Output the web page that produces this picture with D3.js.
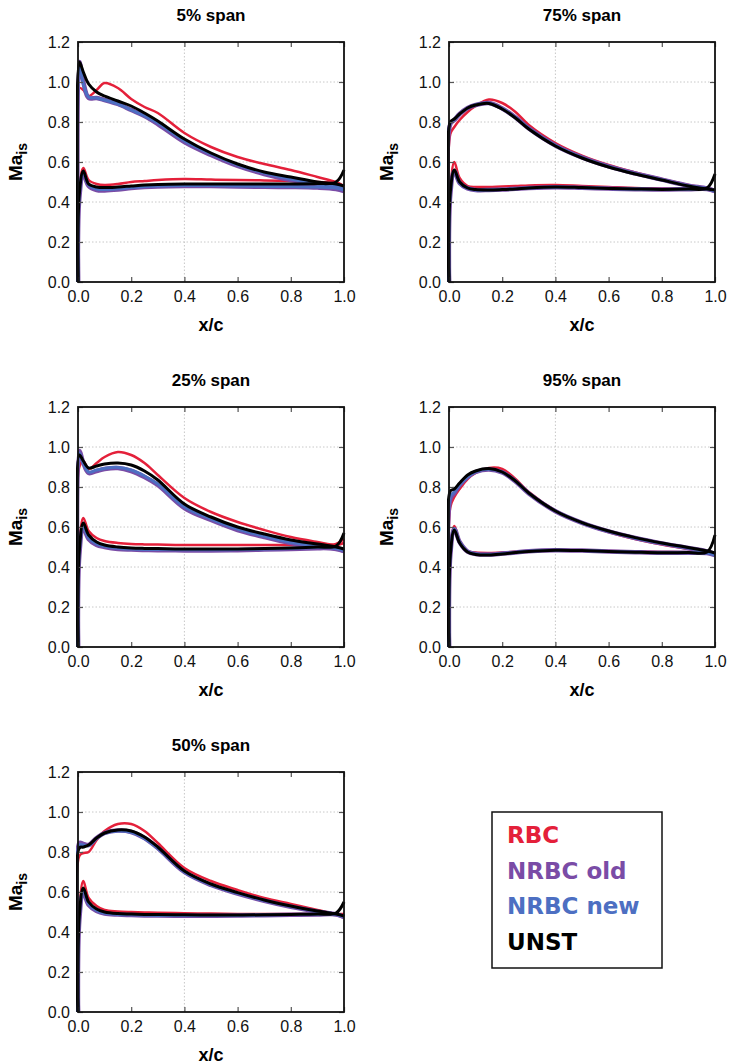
<!DOCTYPE html>
<html>
<head>
<meta charset="utf-8">
<script src="https://cdn.jsdelivr.net/npm/d3@7"></script>
<style>
  body { margin: 0; background: #fff; }
  svg { display: block; }
  text { font-family: "Liberation Sans", Arial, sans-serif; }
</style>
</head>
<body>
<svg id="chart" width="734" height="1064"></svg>
<script>
// chord stations (x/c) shared by every curve
const xStations = [0, 0.005, 0.02, 0.04, 0.07, 0.1, 0.15, 0.2, 0.25, 0.3, 0.4, 0.5, 0.6, 0.7, 0.8, 0.9, 0.97, 1.0];

const seriesNames = ['RBC', 'NRBC old', 'NRBC new', 'UNST'];
const seriesColors = ['#e4203a', '#7a4ca6', '#4d6fc2', '#000000'];
const seriesWidths = [2.5, 4.5, 3, 3];

const xTicks = [0, 0.2, 0.4, 0.6, 0.8, 1.0];
const yTicks = [0, 0.2, 0.4, 0.6, 0.8, 1.0, 1.2];

// each array: [RBC, NRBC old, NRBC new, UNST]
const span05_suction = [
  [0, 0.97, 0.96, 0.93, 0.96, 0.995, 0.97, 0.915, 0.875, 0.845, 0.745, 0.675, 0.625, 0.59, 0.56, 0.525, 0.50, 0.48],
  [0, 1.10, 1.00, 0.92, 0.92, 0.91, 0.89, 0.86, 0.83, 0.79, 0.70, 0.635, 0.58, 0.54, 0.51, 0.49, 0.475, 0.46],
  [0, 1.09, 0.99, 0.925, 0.92, 0.91, 0.89, 0.86, 0.83, 0.795, 0.705, 0.64, 0.585, 0.545, 0.515, 0.49, 0.48, 0.465],
  [0, 1.10, 1.05, 0.99, 0.95, 0.93, 0.905, 0.88, 0.845, 0.805, 0.715, 0.645, 0.59, 0.55, 0.525, 0.50, 0.49, 0.48]
];
const span05_pressure = [
  [0, 0.45, 0.57, 0.51, 0.49, 0.485, 0.49, 0.50, 0.505, 0.51, 0.515, 0.512, 0.51, 0.508, 0.505, 0.50, 0.495, 0.48],
  [0, 0.42, 0.54, 0.48, 0.46, 0.458, 0.462, 0.47, 0.475, 0.478, 0.48, 0.48, 0.478, 0.476, 0.475, 0.472, 0.465, 0.455],
  [0, 0.43, 0.545, 0.485, 0.465, 0.462, 0.466, 0.472, 0.477, 0.48, 0.482, 0.482, 0.48, 0.478, 0.477, 0.475, 0.47, 0.46],
  [0, 0.44, 0.555, 0.49, 0.475, 0.472, 0.475, 0.48, 0.485, 0.488, 0.49, 0.49, 0.49, 0.49, 0.49, 0.492, 0.50, 0.56]
];
const span25_suction = [
  [0, 0.90, 0.93, 0.89, 0.92, 0.95, 0.975, 0.96, 0.92, 0.86, 0.745, 0.675, 0.625, 0.585, 0.55, 0.525, 0.51, 0.52],
  [0, 0.98, 0.92, 0.87, 0.88, 0.89, 0.895, 0.88, 0.85, 0.81, 0.695, 0.635, 0.585, 0.55, 0.52, 0.50, 0.49, 0.48],
  [0, 0.97, 0.92, 0.875, 0.885, 0.893, 0.898, 0.885, 0.855, 0.815, 0.70, 0.64, 0.59, 0.553, 0.523, 0.503, 0.492, 0.482],
  [0, 0.96, 0.93, 0.895, 0.905, 0.915, 0.92, 0.91, 0.88, 0.835, 0.715, 0.65, 0.60, 0.565, 0.535, 0.515, 0.50, 0.49]
];
const span25_pressure = [
  [0, 0.50, 0.645, 0.58, 0.545, 0.53, 0.52, 0.515, 0.513, 0.512, 0.51, 0.51, 0.51, 0.51, 0.51, 0.51, 0.515, 0.54],
  [0, 0.46, 0.595, 0.54, 0.51, 0.50, 0.49, 0.487, 0.485, 0.484, 0.483, 0.483, 0.484, 0.487, 0.49, 0.494, 0.495, 0.48],
  [0, 0.47, 0.60, 0.545, 0.515, 0.503, 0.494, 0.49, 0.488, 0.487, 0.486, 0.486, 0.487, 0.49, 0.493, 0.497, 0.498, 0.485],
  [0, 0.48, 0.62, 0.56, 0.525, 0.51, 0.50, 0.495, 0.493, 0.492, 0.49, 0.49, 0.49, 0.492, 0.495, 0.50, 0.505, 0.57]
];
const span50_suction = [
  [0, 0.78, 0.795, 0.80, 0.86, 0.905, 0.94, 0.94, 0.905, 0.845, 0.72, 0.655, 0.61, 0.57, 0.54, 0.51, 0.49, 0.48],
  [0, 0.845, 0.84, 0.835, 0.87, 0.895, 0.907, 0.90, 0.87, 0.82, 0.70, 0.635, 0.592, 0.556, 0.526, 0.502, 0.488, 0.475],
  [0, 0.835, 0.835, 0.832, 0.868, 0.893, 0.905, 0.898, 0.868, 0.818, 0.70, 0.636, 0.593, 0.557, 0.527, 0.503, 0.489, 0.477],
  [0, 0.82, 0.825, 0.835, 0.87, 0.895, 0.91, 0.905, 0.875, 0.825, 0.705, 0.64, 0.597, 0.56, 0.53, 0.505, 0.49, 0.48]
];
const span50_pressure = [
  [0, 0.50, 0.655, 0.57, 0.53, 0.51, 0.503, 0.50, 0.498, 0.496, 0.494, 0.492, 0.49, 0.49, 0.49, 0.49, 0.49, 0.49],
  [0, 0.46, 0.60, 0.535, 0.505, 0.492, 0.487, 0.485, 0.483, 0.482, 0.481, 0.481, 0.482, 0.484, 0.486, 0.488, 0.488, 0.475],
  [0, 0.47, 0.605, 0.54, 0.508, 0.494, 0.488, 0.486, 0.484, 0.483, 0.482, 0.482, 0.483, 0.485, 0.487, 0.489, 0.489, 0.478],
  [0, 0.48, 0.62, 0.55, 0.515, 0.50, 0.492, 0.49, 0.488, 0.487, 0.486, 0.485, 0.485, 0.486, 0.488, 0.49, 0.495, 0.55]
];
const span75_suction = [
  [0, 0.74, 0.775, 0.81, 0.85, 0.88, 0.912, 0.895, 0.85, 0.785, 0.695, 0.632, 0.585, 0.548, 0.515, 0.485, 0.468, 0.455],
  [0, 0.79, 0.81, 0.84, 0.87, 0.885, 0.895, 0.868, 0.823, 0.768, 0.683, 0.623, 0.578, 0.543, 0.512, 0.482, 0.468, 0.455],
  [0, 0.795, 0.812, 0.84, 0.87, 0.886, 0.894, 0.867, 0.822, 0.767, 0.682, 0.622, 0.577, 0.542, 0.511, 0.481, 0.467, 0.455],
  [0, 0.80, 0.815, 0.84, 0.87, 0.885, 0.893, 0.865, 0.82, 0.765, 0.68, 0.62, 0.575, 0.54, 0.51, 0.48, 0.465, 0.46]
];
const span75_pressure = [
  [0, 0.45, 0.60, 0.52, 0.48, 0.475, 0.475, 0.478, 0.48, 0.483, 0.485, 0.48, 0.475, 0.47, 0.468, 0.465, 0.465, 0.46],
  [0, 0.44, 0.555, 0.495, 0.468, 0.46, 0.46, 0.462, 0.466, 0.47, 0.474, 0.471, 0.467, 0.464, 0.462, 0.464, 0.465, 0.455],
  [0, 0.44, 0.555, 0.495, 0.468, 0.46, 0.46, 0.462, 0.466, 0.47, 0.474, 0.471, 0.467, 0.464, 0.462, 0.464, 0.465, 0.455],
  [0, 0.45, 0.56, 0.50, 0.47, 0.462, 0.46, 0.462, 0.465, 0.47, 0.475, 0.472, 0.468, 0.465, 0.463, 0.465, 0.47, 0.54]
];
const span95_suction = [
  [0, 0.70, 0.75, 0.79, 0.84, 0.87, 0.895, 0.89, 0.84, 0.775, 0.682, 0.62, 0.575, 0.54, 0.512, 0.49, 0.475, 0.465],
  [0, 0.74, 0.77, 0.81, 0.85, 0.875, 0.888, 0.873, 0.828, 0.768, 0.679, 0.621, 0.578, 0.545, 0.518, 0.495, 0.478, 0.465],
  [0, 0.75, 0.775, 0.81, 0.85, 0.876, 0.889, 0.874, 0.829, 0.769, 0.68, 0.621, 0.578, 0.545, 0.518, 0.495, 0.478, 0.465],
  [0, 0.78, 0.79, 0.82, 0.86, 0.88, 0.892, 0.875, 0.83, 0.77, 0.68, 0.622, 0.58, 0.547, 0.52, 0.497, 0.48, 0.47]
];
const span95_pressure = [
  [0, 0.47, 0.605, 0.53, 0.48, 0.472, 0.47, 0.472, 0.476, 0.48, 0.485, 0.483, 0.48, 0.477, 0.475, 0.474, 0.475, 0.47],
  [0, 0.46, 0.59, 0.525, 0.477, 0.465, 0.462, 0.467, 0.473, 0.479, 0.484, 0.482, 0.478, 0.474, 0.471, 0.471, 0.47, 0.46],
  [0, 0.46, 0.59, 0.525, 0.477, 0.465, 0.462, 0.467, 0.473, 0.479, 0.484, 0.482, 0.478, 0.474, 0.471, 0.471, 0.47, 0.46],
  [0, 0.46, 0.585, 0.52, 0.475, 0.463, 0.46, 0.465, 0.472, 0.478, 0.484, 0.482, 0.478, 0.474, 0.471, 0.472, 0.475, 0.56]
];

const panelTitles = ['5% span', '75% span', '25% span', '95% span', '50% span'];
const panelSuction = [span05_suction, span75_suction, span25_suction, span95_suction, span50_suction];
const panelPressure = [span05_pressure, span75_pressure, span25_pressure, span95_pressure, span50_pressure];
// plot-area placement: left, top
const panelPos = [[78, 42], [449, 42], [78, 407], [449, 407], [78, 772]];
const plotW = 266, plotH = 240;

const svg = d3.select('#chart');

panelTitles.forEach(function(title, i) {
  var left = panelPos[i][0], top = panelPos[i][1];
  var g = svg.append('g').attr('transform', 'translate(' + left + ',' + top + ')');

  var x = d3.scaleLinear().domain([0, 1]).range([0, plotW]);
  var y = d3.scaleLinear().domain([0, 1.2]).range([plotH, 0]);

  // dotted grid: horizontal at each interior tick, vertical only at 0.4
  g.append('g').selectAll('line')
    .data(yTicks.filter(d => d > 0 && d < 1.2))
    .enter().append('line')
    .attr('x1', 0).attr('x2', plotW)
    .attr('y1', d => y(d)).attr('y2', d => y(d))
    .style('stroke', '#c8c8c8').style('stroke-width', 1)
    .style('stroke-dasharray', '1.5,2');
  g.append('line')
    .attr('x1', x(0.4)).attr('x2', x(0.4))
    .attr('y1', 0).attr('y2', plotH)
    .style('stroke', '#c8c8c8').style('stroke-width', 1)
    .style('stroke-dasharray', '1.5,2');

  var line = d3.line()
    .x((d, k) => x(xStations[k]))
    .y(d => y(d))
    .curve(d3.curveCatmullRom.alpha(0.5));

  var clipId = 'clip' + i;
  g.append('clipPath').attr('id', clipId)
    .append('rect').attr('x', -2).attr('y', 0).attr('width', plotW + 4).attr('height', plotH);
  var curves = g.append('g').attr('clip-path', 'url(#' + clipId + ')');

  seriesNames.forEach(function(name, s) {
    [panelSuction[i][s], panelPressure[i][s]].forEach(function(vals) {
      curves.append('path')
        .datum(vals)
        .attr('d', line)
        .style('fill', 'none')
        .style('stroke', seriesColors[s])
        .style('stroke-width', seriesWidths[s])
        .style('stroke-linejoin', 'round');
    });
  });

  // axes with inward ticks, mirrored on top/right
  var xAxis = d3.axisBottom(x).tickValues(xTicks).tickSizeInner(-5).tickSizeOuter(0).tickPadding(9).tickFormat(d3.format('.1f'));
  var yAxis = d3.axisLeft(y).tickValues(yTicks).tickSizeInner(-5).tickSizeOuter(0).tickPadding(8).tickFormat(d3.format('.1f'));
  var xTop = d3.axisTop(x).tickValues(xTicks).tickSizeInner(-5).tickSizeOuter(0).tickFormat('');
  var yRight = d3.axisRight(y).tickValues(yTicks).tickSizeInner(-5).tickSizeOuter(0).tickFormat('');

  var gx = g.append('g').attr('transform', 'translate(0,' + plotH + ')').call(xAxis);
  var gy = g.append('g').call(yAxis);
  var gxt = g.append('g').call(xTop);
  var gyr = g.append('g').attr('transform', 'translate(' + plotW + ',0)').call(yRight);
  [gx, gy, gxt, gyr].forEach(function(a) {
    a.select('.domain').remove();
    a.selectAll('.tick line').style('stroke', '#555').style('stroke-width', 1.2);
    a.selectAll('text').style('font-size', '16px').style('fill', '#111')
      .style('font-family', '"Liberation Sans", Arial, sans-serif');
  });

  g.append('rect')
    .attr('x', 0).attr('y', 0).attr('width', plotW).attr('height', plotH)
    .style('fill', 'none').style('stroke', '#111').style('stroke-width', 1.8);

  g.append('text')
    .attr('x', plotW / 2).attr('y', -21)
    .attr('text-anchor', 'middle')
    .style('font-size', '17px').style('font-weight', 'bold')
    .text(title);

  g.append('text')
    .attr('x', plotW / 2).attr('y', plotH + 49)
    .attr('text-anchor', 'middle')
    .style('font-size', '18px').style('font-weight', 'bold')
    .text('x/c');

  var yl = g.append('text')
    .attr('transform', 'translate(' + (-56) + ',' + (plotH / 2) + ') rotate(-90)')
    .attr('text-anchor', 'middle')
    .style('font-size', '19px').style('font-weight', 'bold');
  yl.append('tspan').text('Ma');
  yl.append('tspan').attr('dy', 5).style('font-size', '14px').text('is');
});

// legend box
const legend = svg.append('g').attr('transform', 'translate(492,812)');
legend.append('rect')
  .attr('width', 170).attr('height', 156)
  .style('fill', '#fff').style('stroke', '#111').style('stroke-width', 1.5);
legend.selectAll('text.leg')
  .data(seriesNames)
  .enter().append('text')
  .attr('class', 'leg')
  .attr('x', 15)
  .attr('y', (d, k) => 31 + k * 35.5)
  .style('font-family', '"DejaVu Sans", Verdana, sans-serif')
  .style('font-weight', 'bold')
  .style('font-size', '23px')
  .style('fill', (d, k) => seriesColors[k])
  .text(d => d);
</script>
</body>
</html>
